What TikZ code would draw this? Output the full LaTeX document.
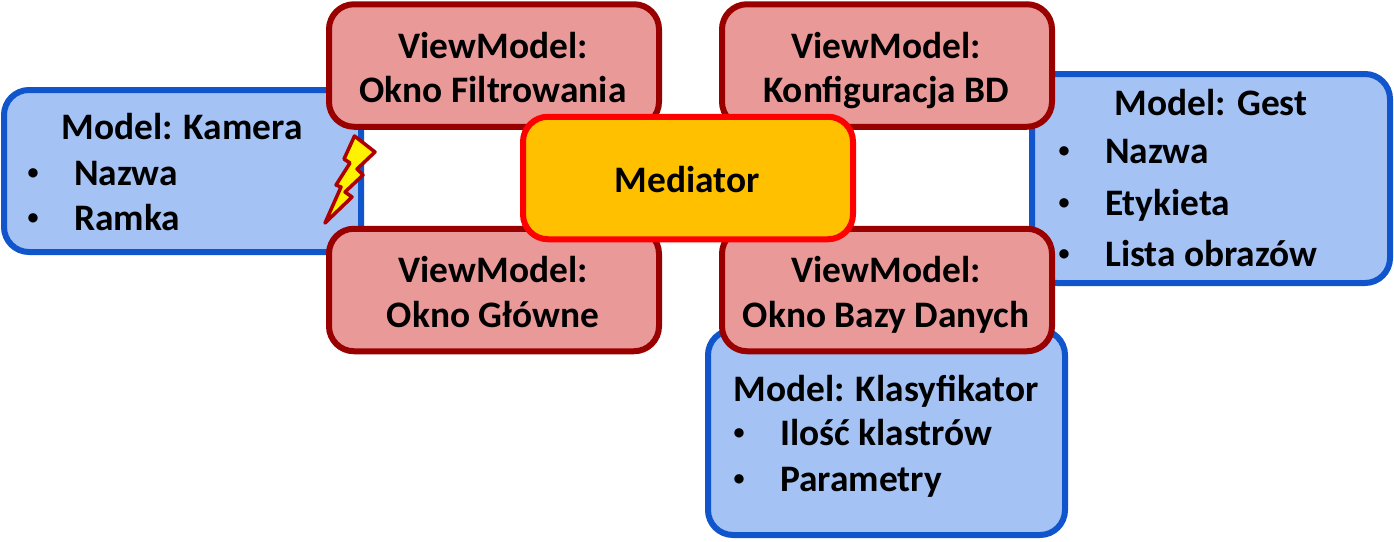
\documentclass[tikz,border=0pt]{standalone}
\usepackage{fontspec}
\setmainfont{Carlito}
\definecolor{modelfill}{HTML}{A4C2F4}
\definecolor{modelline}{HTML}{1155CC}
\definecolor{viewfill}{HTML}{EA9999}
\definecolor{viewline}{HTML}{990000}
\definecolor{medfill}{HTML}{FFC000}
\tikzset{
	box/.style={draw, line width=6pt, outer sep=0pt, inner sep=0pt, rounded corners=25pt, align=center},
	modelbox/.style={box, fill=modelfill, draw=modelline},
	viewbox/.style={box, fill=viewfill, draw=viewline, minimum width=330pt, minimum height=122.5pt},
	medbox/.style={viewbox, fill=medfill, draw=red},
	txt/.style={font=\fontsize{37.4}{45}\bfseries\selectfont, text=black, inner sep=0pt, align=center},
	item/.style={txt, anchor=base west},
	dot/.style={txt, anchor=base, font=\fontsize{22}{22}\bfseries\selectfont}
}
\begin{document}
\begin{tikzpicture}[x=1pt,y=-1pt]
	\useasboundingbox (0,0) rectangle (1394,541);
	% models
	\node[modelbox, minimum width=357pt, minimum height=162pt] (kamera) at (182.5,171) {};
	\node[modelbox, minimum width=358pt, minimum height=209pt] (gest) at (1211,178.5) {};
	\node[modelbox, minimum width=357pt, minimum height=205pt] (klas) at (886.5,432.5) {};
	\node[txt, anchor=base] (kameraT) at (182,139) {Model: Kamera};
	\node[dot] (kameraD1) at (33,179) {•};
	\node[item] (kameraI1) at (74,185) {Nazwa};
	\node[dot] (kameraD2) at (33,224) {•};
	\node[item] (kameraI2) at (74,230) {Ramka};
	\node[txt, anchor=base] (gestT) at (1211,115) {Model: Gest};
	\node[dot] (gestD1) at (1064,157) {•};
	\node[item] (gestI1) at (1105,163) {Nazwa};
	\node[dot] (gestD2) at (1064,209) {•};
	\node[item] (gestI2) at (1105,215) {Etykieta};
	\node[dot] (gestD3) at (1064,260) {•};
	\node[item] (gestI3) at (1105,266) {Lista obrazów};
	\node[txt, anchor=base] (klasT) at (886,401) {Model: Klasyfikator};
	\node[dot] (klasD1) at (739,439) {•};
	\node[item] (klasI1) at (780,445) {Ilość klastrów};
	\node[dot] (klasD2) at (739,485) {•};
	\node[item] (klasI2) at (780,491) {Parametry};
	% viewmodels
	\node[viewbox] (filtr) at (494,65.5) {};
	\node[viewbox] (konf) at (887,65.5) {};
	\node[viewbox] (glowne) at (494,290) {};
	\node[viewbox] (baza) at (887,290) {};
	\node[txt, anchor=base] (filtrA) at (493,58) {ViewModel:};
	\node[txt, anchor=base] (filtrB) at (493,102) {Okno Filtrowania};
	\node[txt, anchor=base] (konfA) at (886,58) {ViewModel:};
	\node[txt, anchor=base] (konfB) at (886,102) {Konfiguracja BD};
	\node[txt, anchor=base] (glowneA) at (493,282) {ViewModel:};
	\node[txt, anchor=base] (glowneB) at (493,327) {Okno Główne};
	\node[txt, anchor=base] (bazaA) at (886,282) {ViewModel:};
	\node[txt, anchor=base] (bazaB) at (886,327) {Okno Bazy Danych};
	% mediator
	\node[medbox] (med) at (688,178) {};
	\node[txt, anchor=base] (medT) at (687,192) {Mediator};
	% bolt
	\draw[line width=3.5pt, line join=round, draw=viewline!80!red, fill=yellow]
		(354.5,136) -- (375,152) -- (357,169) -- (363,175) -- (345,192) -- (352,197)
		-- (325,223) -- (341,187) -- (336,185) -- (350,163) -- (344,159) -- cycle;
\end{tikzpicture}
\end{document}
